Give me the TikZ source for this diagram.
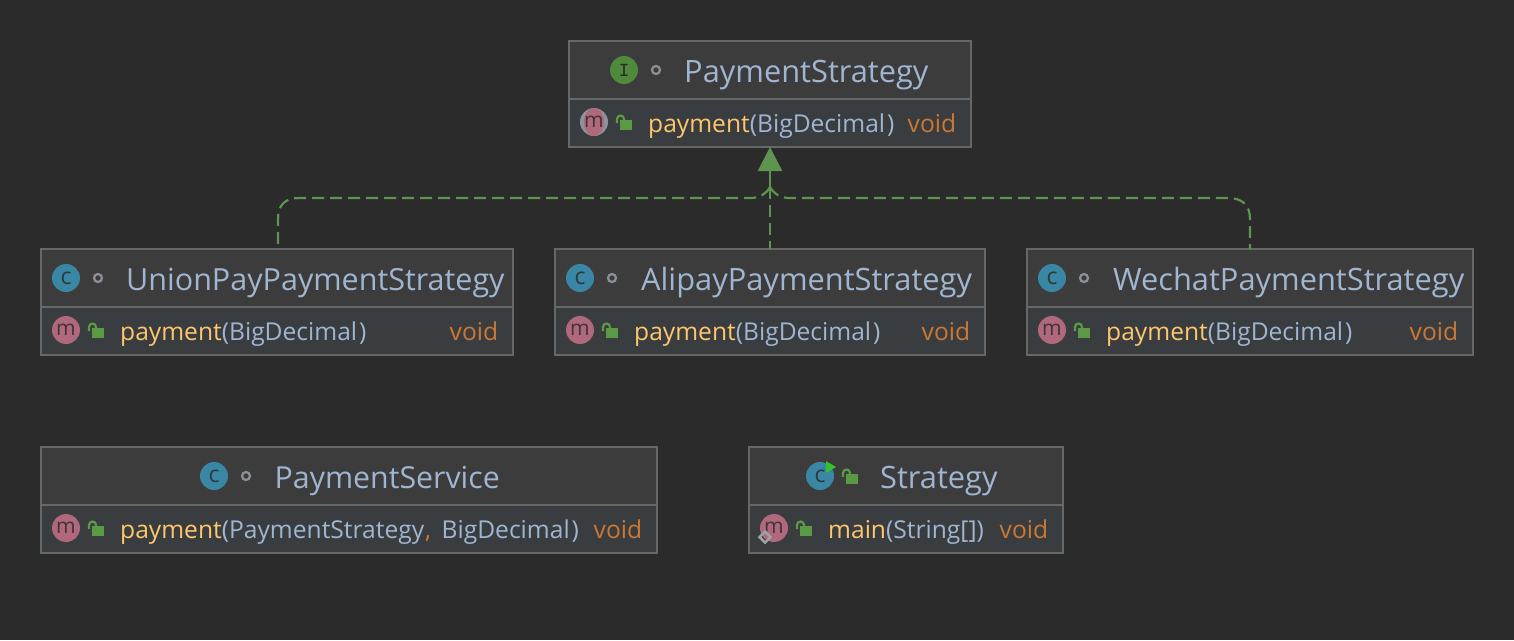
\documentclass[tikz,border=0pt]{standalone}
\usepackage{fontspec}
\setmainfont{Open Sans}
\usetikzlibrary{arrows.meta,calc,shapes.geometric}
\definecolor{bgc}{HTML}{2B2B2B}
\definecolor{titlec}{HTML}{3C3C3C}
\definecolor{memc}{HTML}{3A3D40}
\definecolor{edgec}{HTML}{666868}
\definecolor{namec}{HTML}{A0B5D0}
\definecolor{fnc}{HTML}{FFC66D}
\definecolor{voidc}{HTML}{CC7832}
\definecolor{clsc}{HTML}{3A87A5}
\definecolor{mthc}{HTML}{B0687C}
\definecolor{intc}{HTML}{4F8A3C}
\definecolor{lockc}{HTML}{5A9A45}
\definecolor{rel}{HTML}{5C9450}
\definecolor{dotc}{HTML}{8C9297}
\newcommand{\Tsize}{\fontsize{30.8}{34}\selectfont}
\newcommand{\Msize}{\fontsize{24.6}{28}\selectfont}
\newcommand{\BigDec}{\textcolor{namec}{(BigDecimal\kern2pt)}}
\tikzset{
  x=1pt,y=-1pt,
  band/.style={inner sep=0pt,outer sep=0pt,anchor=north west},
  titleband/.style={band,fill=titlec,minimum height=58pt},
  memband/.style={band,fill=memc,minimum height=48pt},
  frame/.style={draw=edgec,line width=2pt,inner sep=0pt,outer sep=0pt,minimum height=106pt,anchor=north west},
  divider/.style={draw=edgec,line width=2pt},
  titletxt/.style={inner sep=0pt,anchor=base west,text=namec,font=\Tsize},
  fntxt/.style={inner sep=0pt,anchor=base west,text=fnc,font=\Msize},
  voidtxt/.style={inner sep=0pt,anchor=base west,text=voidc,font=\Msize},
  kindc/.style={circle,fill=clsc,minimum size=28pt,inner sep=0pt,text=bgc!85!clsc,font=\fontsize{23}{23}\selectfont},
  kindi/.style={circle,fill=intc,minimum size=28pt,inner sep=0pt,text=bgc,font=\fontsize{20}{20}\selectfont\bfseries\ttfamily},
  kindm/.style={circle,fill=mthc,minimum size=28pt,inner sep=0pt,text=bgc!85!mthc,font=\fontsize{21}{21}\selectfont},
  vis/.style={circle,draw=dotc,line width=2.2pt,minimum size=8pt,inner sep=0pt},
  rell/.style={draw=rel,line width=2.2pt},
  dashl/.style={rell,dash pattern=on 12pt off 6pt},
  lockic/.pic={
    \fill[lockc] (-4,-3) rectangle (8,7);
    \draw[lockc,line width=2.2pt] (-7,0) -- (-7,-4) arc[start angle=180,end angle=0,x radius=3.5,y radius=-3.5] -- (0,-3);
  }
}
\begin{document}
\begin{tikzpicture}
\useasboundingbox[fill=bgc] (0,0) rectangle (1514,640);

% PaymentStrategy
\node[titleband,minimum width=402pt] (pst) at (569,41) {};
\node[memband,minimum width=402pt] (psm) at (569,99) {};
\node[frame,minimum width=402pt] (ps) at (569,41) {};
\draw[divider] (pst.south west) -- (pst.south east);
\node[kindi] (psi) at (624,70) {I};
\node[vis] (psv) at (656,70) {};
\node[titletxt] (psn) at (684,82) {PaymentStrategy};
\node[circle,fill=dotc,minimum size=28pt,inner sep=0pt] (psmb) at (594,122) {};
\node[ellipse,fill=mthc,minimum width=20pt,minimum height=28pt,inner sep=0pt] (psme) at (594,122) {};
\node[inner sep=0pt,text=bgc!85!mthc,font=\fontsize{21}{21}\selectfont] (psmi) at (594,122) {m};
\pic at (624,123) {lockic};
\node[fntxt] (psf) at (648,132) {payment\BigDec};
\node[voidtxt] (psr) at (907.5,132) {void};

% UnionPay
\node[titleband,minimum width=472pt] (unt) at (41,249) {};
\node[memband,minimum width=472pt] (unm) at (41,307) {};
\node[frame,minimum width=472pt] (un) at (41,249) {};
\draw[divider] (unt.south west) -- (unt.south east);
\node[kindc] (uni) at (66,278) {c};
\node[vis] (unv) at (98,278) {};
\node[titletxt,font=\fontsize{30.5}{34}\selectfont] (unn) at (126,290) {UnionPayPaymentStrategy};
\node[kindm] (unmi) at (66,330) {m};
\pic at (96,331) {lockic};
\node[fntxt] (unf) at (120,340) {payment\BigDec};
\node[voidtxt] (unr) at (449.5,340) {void};

% Alipay
\node[titleband,minimum width=430pt] (alt) at (555,249) {};
\node[memband,minimum width=430pt] (alm) at (555,307) {};
\node[frame,minimum width=430pt] (al) at (555,249) {};
\draw[divider] (alt.south west) -- (alt.south east);
\node[kindc] (ali) at (580,278) {c};
\node[vis] (alv) at (612,278) {};
\node[titletxt] (aln) at (641,290) {AlipayPaymentStrategy};
\node[kindm] (almi) at (580,330) {m};
\pic at (610,331) {lockic};
\node[fntxt] (alf) at (634,340) {payment\BigDec};
\node[voidtxt] (alr) at (921.5,340) {void};

% Wechat
\node[titleband,minimum width=446pt] (wet) at (1027,249) {};
\node[memband,minimum width=446pt] (wem) at (1027,307) {};
\node[frame,minimum width=446pt] (we) at (1027,249) {};
\draw[divider] (wet.south west) -- (wet.south east);
\node[kindc] (wei) at (1052,278) {c};
\node[vis] (wev) at (1084,278) {};
\node[titletxt] (wen) at (1113,290) {WechatPaymentStrategy};
\node[kindm] (wemi) at (1052,330) {m};
\pic at (1082,331) {lockic};
\node[fntxt] (wef) at (1106,340) {payment\BigDec};
\node[voidtxt] (wer) at (1409.5,340) {void};

% PaymentService
\node[titleband,minimum width=616pt] (svt) at (41,447) {};
\node[memband,minimum width=616pt] (svm) at (41,505) {};
\node[frame,minimum width=616pt] (sv) at (41,447) {};
\draw[divider] (svt.south west) -- (svt.south east);
\node[kindc] (svi) at (214,476) {c};
\node[vis] (svv) at (246,476) {};
\node[titletxt,font=\fontsize{30.3}{34}\selectfont] (svn) at (274.5,488) {PaymentService};
\node[kindm] (svmi) at (66,528) {m};
\pic at (96,529) {lockic};
\node[fntxt] (svf) at (120,538) {payment\textcolor{namec}{(PaymentStrategy}\kern1pt\textcolor{voidc}{,}\kern4pt{} \textcolor{namec}{BigDecimal\kern2pt)}};
\node[voidtxt] (svr) at (593.5,538) {void};

% Strategy
\node[titleband,minimum width=314pt] (stt) at (749,447) {};
\node[memband,minimum width=314pt] (stm) at (749,505) {};
\node[frame,minimum width=314pt] (st) at (749,447) {};
\draw[divider] (stt.south west) -- (stt.south east);
\node[kindc] (sti) at (820,476) {c};
\fill[lockc!60!green] (826,461) -- (836,467) -- (826,473) -- cycle;
\pic at (850,477) {lockic};
\node[titletxt] (stn) at (880,488) {Strategy};
\node[kindm] (stmi) at (774,528) {m};
\draw[dotc!85!white,line width=2.5pt] (765,531.5) -- (770.5,537) -- (765,542.5) -- (759.5,537) -- cycle;
\pic at (804,529) {lockic};
\node[fntxt] (stf) at (828,538) {main\textcolor{namec}{(String[])}};
\node[voidtxt] (str) at (999.5,538) {void};

% realisation connectors
\coordinate (junc) at ($(ps.south)+(0,40)$);
\draw[rell,-{Triangle[width=24pt,length=24pt]}] (junc) -- (ps.south);
\draw[dashl] (junc) -- (al.north);
\draw[dashl] (junc) .. controls (766,194) and (760,198) .. (750,198) -- ($(un.north)+(22,-51)$) .. controls ($(un.north)+(8,-51)$) and ($(un.north)+(1,-44)$) .. ($(un.north)+(1,-30)$) -- ($(un.north)+(1,0)$);
\draw[dashl] (junc) .. controls (774,194) and (780,198) .. (790,198) -- ($(we.north)+(-22,-51)$) .. controls ($(we.north)+(-8,-51)$) and ($(we.north)+(0,-44)$) .. ($(we.north)+(0,-30)$) -- (we.north);
\end{tikzpicture}
\end{document}
